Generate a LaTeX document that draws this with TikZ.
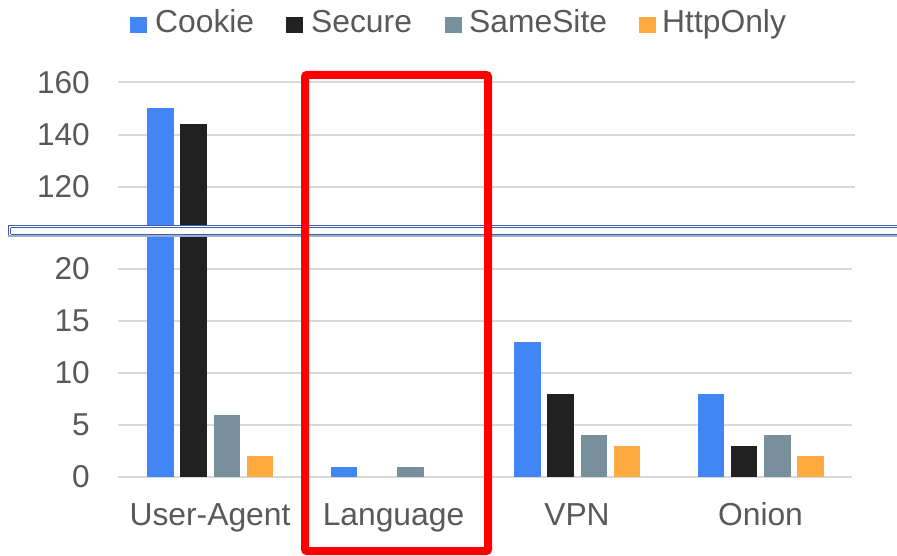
\documentclass[tikz,border=0pt]{standalone}
\usepackage{fontspec}
\setmainfont{Liberation Sans}
\definecolor{cookieblue}{HTML}{4285F4}
\definecolor{securedark}{HTML}{212121}
\definecolor{samesitegray}{HTML}{78909C}
\definecolor{httponlyorange}{HTML}{FFAB40}
\definecolor{gridgray}{HTML}{D9D9D9}
\definecolor{labelgray}{HTML}{595959}
\definecolor{breakblue}{HTML}{3F5FA8}
\definecolor{breaklight}{HTML}{9AB0D0}
\begin{document}
\begin{tikzpicture}[x=1pt,y=-1pt,
  gridline/.style={draw=gridgray,line width=2pt},
  ticklabel/.style={anchor=east,inner sep=0pt,text=labelgray,font=\fontsize{31.6}{31.6}\selectfont},
  catlabel/.style={anchor=base,inner sep=0pt,text=labelgray,font=\fontsize{31.8}{31.8}\selectfont},
  legendlabel/.style={anchor=base west,inner sep=0pt,text=labelgray,font=\fontsize{31.8}{31.8}\selectfont},
  highlight/.style={draw=red,line width=8pt,rounded corners=2pt}]
\useasboundingbox (0,0) rectangle (897,556);

% gridlines of the upper (120..160) and lower (0..20) scales
\foreach \v in {120,140,160}{
  \pgfmathsetmacro\yy{187-(\v-120)*2.62}
  \draw[gridline] (118,\yy) -- (855,\yy);
  \node[ticklabel] (t\v) at (90,\yy) {\v};
}
\foreach \v in {0,5,10,15,20}{
  \pgfmathsetmacro\yy{477-\v*10.4}
  \draw[gridline] (118,\yy) -- (852,\yy);
  \node[ticklabel] (t\v) at (90,\yy) {\v};
}

% bars: group index / series index / value / colour
\foreach \g/\s/\v/\c in {
  0/0/150/cookieblue, 0/1/144/securedark, 0/2/6/samesitegray, 0/3/2/httponlyorange,
  1/0/1/cookieblue, 1/2/1/samesitegray,
  2/0/13/cookieblue, 2/1/8/securedark, 2/2/4/samesitegray, 2/3/3/httponlyorange,
  3/0/8/cookieblue, 3/1/3/securedark, 3/2/4/samesitegray, 3/3/2/httponlyorange}{
  \pgfmathsetmacro\xa{147+183.5*\g+33.3*\s}
  \pgfmathsetmacro\yt{\v>20 ? 187-(\v-120)*2.62 : 477-\v*10.4}
  \fill[\c] (\xa,476.5) rectangle (\xa+26.5,\yt);
}

% axis break band
\fill[white] (8,225) rectangle (905,237.5);
\draw[breakblue,line width=1pt] (8.5,225.5) -- (905,225.5);
\draw[breakblue,line width=1pt] (8.5,225.5) -- (8.5,237);
\draw[breakblue,line width=0.8pt] (10.5,227.6) -- (905,227.6);
\draw[breakblue,line width=0.8pt] (10.5,227.6) -- (10.5,234.2);
\draw[breakblue,line width=0.8pt] (10.5,234.2) -- (905,234.2);
\draw[breaklight,line width=2.2pt] (8,236.2) -- (905,236.2);

% category labels
\node[catlabel] (ua) at (210,525) {User-Agent};
\node[catlabel] (lang) at (393.5,525) {Language};
\node[catlabel] (vpn) at (577,525) {VPN};
\node[catlabel] (onion) at (760.5,525) {Onion};

% legend
\fill[cookieblue] (130,17) rectangle (147,33);
\node[legendlabel] (lcookie) at (155,33) {Cookie};
\fill[securedark] (286,17) rectangle (303,33);
\node[legendlabel] (lsecure) at (311,33) {Secure};
\fill[samesitegray] (445,17) rectangle (462,33);
\node[legendlabel] (lsamesite) at (469,33) {SameSite};
\fill[httponlyorange] (639,17) rectangle (656,33);
\node[legendlabel] (lhttponly) at (662,33) {HttpOnly};

% highlighted category
\draw[highlight] (305,75) rectangle (488,551);
\end{tikzpicture}
\end{document}
